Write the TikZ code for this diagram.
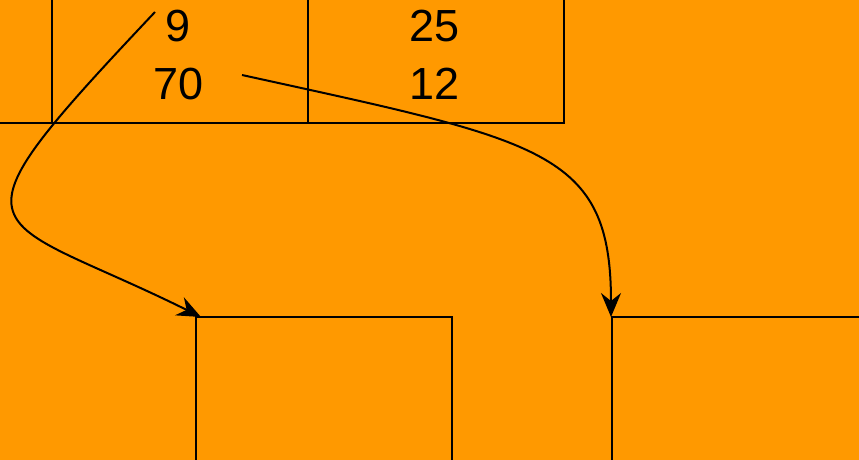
\documentclass[tikz,border=0pt]{standalone}
\usepackage{fontspec}
\setmainfont{Liberation Sans}
\usetikzlibrary{arrows.meta}
\definecolor{bgorange}{RGB}{255,153,0}
\begin{document}
\begin{tikzpicture}[x=1pt,y=-1pt,
  cell/.style={draw=black,line width=2pt,inner sep=0pt,anchor=south west,minimum width=256pt,minimum height=280pt},
  box/.style={draw=black,line width=2pt,inner sep=0pt,anchor=north west,minimum width=256pt,minimum height=200pt},
  num/.style={font=\fontsize{45}{48}\selectfont,inner sep=0pt},
  link/.style={draw=black,line width=2pt,-{Stealth[length=24pt,width=20pt,inset=8pt]}}]
\fill[bgorange] (0,0) rectangle (859,460);
\useasboundingbox (0,0) rectangle (859,460);
\clip (0,0) rectangle (859,460);
\node[cell] (c0) at (-205,124) {};
\node[cell] (c1) at (51,124) {};
\node[cell] (c2) at (307,124) {};
\node[num] (n9) at (178,26) {9};
\node[num] (n70) at (179,84) {70};
\node[num] (n25) at (435,26) {25};
\node[num] (n12) at (435,84) {12};
\node[box] (b1) at (195,316) {};
\node[box] (b2) at (611,316) {};
\coordinate (s1) at (155,12);
\coordinate (s2) at (242,75);
\coordinate (t1) at ([xshift=6pt,yshift=-1pt]b1.north west);
\coordinate (t2) at ([yshift=-1pt]b2.north west);
\draw[link] (s1) .. controls (-65,245) and (-15,210) .. (t1);
\draw[link] (s2) .. controls (542,141) and (611,150) .. (t2);
\end{tikzpicture}
\end{document}
